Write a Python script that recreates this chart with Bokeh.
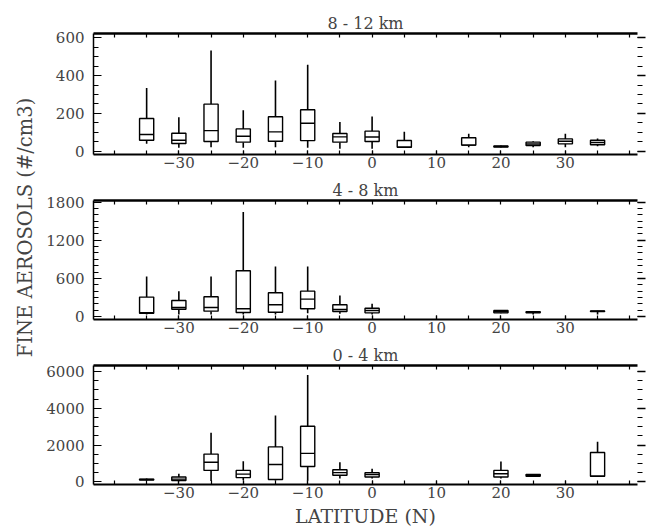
import numpy as np
from bokeh.plotting import figure
from bokeh.layouts import row, column
from bokeh.models import FixedTicker, LinearAxis, Range1d, Label
from bokeh.embed import file_html
from bokeh.resources import INLINE

# ---------------- data ----------------
# 8 - 12 km
lat_hi = [-35, -30, -25, -20, -15, -10, -5, 0, 5, 15, 20, 25, 30, 35]
lo_hi  = [39, 18, 21, 18, 21, 18, 13, 13, 21, 21, 20, 21, 21, 26]
q1_hi  = [58, 41, 51, 48, 53, 56, 48, 51, 21, 32, 22, 30, 39, 34]
med_hi = [88, 58, 109, 79, 102, 148, 76, 75, 21, 32, 25, 38, 53, 46]
q3_hi  = [173, 95, 249, 118, 182, 219, 94, 106, 57, 71, 28, 48, 65, 58]
up_hi  = [335, 180, 533, 217, 374, 457, 155, 184, 103, 92, 30, 53, 92, 67]

# 4 - 8 km
lat_mid = [-35, -30, -25, -20, -15, -10, -5, 0, 20, 25, 35]
lo_mid  = [31, 31, 31, 31, 31, 52, 42, 31, 50, 31, 31]
q1_mid  = [52, 115, 84, 63, 68, 121, 79, 58, 58, 60, 80]
med_mid = [60, 142, 142, 121, 184, 273, 110, 95, 75, 68, 84]
q3_mid  = [305, 252, 310, 719, 373, 399, 184, 131, 95, 75, 88]
up_mid  = [630, 399, 630, 1643, 788, 788, 331, 200, 100, 84, 90]

# 0 - 4 km
lat_lo = [-35, -30, -25, -20, -15, -10, -5, 0, 20, 25, 35]
lo_lo  = [71, 36, 53, 89, 70, 60, 178, 178, 178, 300, 302]
q1_lo  = [100, 71, 622, 231, 124, 836, 356, 267, 267, 302, 302]
med_lo = [124, 150, 1067, 420, 942, 1547, 500, 391, 444, 350, 302]
q3_lo  = [150, 267, 1511, 622, 1902, 3023, 658, 498, 622, 409, 1600]
up_lo  = [178, 444, 2667, 1120, 3609, 5814, 1067, 711, 1102, 409, 2187]

x_labels = [-30, -20, -10, 0, 10, 20, 30]
x_minor = [-40, -35, -30, -25, -20, -15, -10, -5, 0, 5, 10, 15, 20, 25, 30, 35, 40]

FONT = "DejaVu Serif"
BOX_W = 2.2


def panel(title, lats, lo, q1, med, q3, up, yr, ymaj, ymin, height, top, bottom, xlabel=None):
    p = figure(width=605, height=height, x_range=Range1d(-43.25, 41.2),
               y_range=Range1d(*yr), output_backend="svg", toolbar_location=None,
               min_border_left=50, min_border_right=11, min_border_top=top,
               min_border_bottom=bottom)
    p.outline_line_color = None
    p.xgrid.visible = False
    p.ygrid.visible = False
    p.background_fill_color = "white"

    p.title.text = title
    p.title.align = "center"
    p.title.text_font = FONT
    p.title.text_font_size = "16px"
    p.title.text_font_style = "normal"
    p.title.standoff = 1

    ax = p.xaxis[0]
    ax.ticker = FixedTicker(ticks=x_labels, minor_ticks=x_minor)
    ax.major_tick_in = 4
    ax.major_tick_out = 0
    ax.minor_tick_in = 4
    ax.minor_tick_out = 0
    ax.axis_line_width = 2
    ax.major_tick_line_width = 1.2
    ax.minor_tick_line_width = 1.2
    ax.major_label_text_font = FONT
    ax.major_label_text_font_size = "15px"
    ax.major_label_standoff = 2
    if xlabel:
        ax.axis_label = xlabel
        ax.axis_label_text_font = FONT
        ax.axis_label_text_font_size = "19px"
        ax.axis_label_text_font_style = "normal"
        ax.axis_label_standoff = 4

    ay = p.yaxis[0]
    ay.ticker = FixedTicker(ticks=ymaj, minor_ticks=ymin)
    ay.major_tick_in = 8
    ay.major_tick_out = 0
    ay.minor_tick_in = 5
    ay.minor_tick_out = 0
    ay.axis_line_width = 1.5
    ay.major_tick_line_width = 1.2
    ay.minor_tick_line_width = 1.2
    ay.major_label_text_font = FONT
    ay.major_label_text_font_size = "15px"
    ay.major_label_standoff = 9

    top_ax = LinearAxis(ticker=FixedTicker(ticks=x_minor, minor_ticks=[]),
                        major_tick_in=4, major_tick_out=0, axis_line_width=2.5,
                        major_tick_line_width=1.2, major_label_text_color=None,
                        major_label_standoff=0)
    p.add_layout(top_ax, "above")
    right_ax = LinearAxis(ticker=FixedTicker(ticks=ymaj, minor_ticks=ymin),
                          major_tick_in=0, major_tick_out=8, minor_tick_in=0,
                          minor_tick_out=5, axis_line_color=None,
                          major_tick_line_width=1.5, minor_tick_line_width=1.2,
                          major_label_text_color=None, major_label_standoff=0)
    p.add_layout(right_ax, "right")

    xs = np.array(lats, dtype=float)
    p.segment(x0=xs, x1=xs, y0=q3, y1=up, line_color="black", line_width=1.6)
    p.segment(x0=xs, x1=xs, y0=lo, y1=q1, line_color="black", line_width=1.6)
    p.vbar(x=xs, width=BOX_W, top=q3, bottom=q1, fill_color="white",
           line_color="black", line_width=1.4)
    p.segment(x0=xs - BOX_W / 2, x1=xs + BOX_W / 2, y0=med, y1=med,
              line_color="black", line_width=1.4)
    return p


p1 = panel("8 - 12 km", lat_hi, lo_hi, q1_hi, med_hi, q3_hi, up_hi,
           (-17.5, 623), [0, 200, 400, 600], list(range(0, 650, 50)),
           174, 33, 20)
p2 = panel("4 - 8 km", lat_mid, lo_mid, q1_mid, med_mid, q3_mid, up_mid,
           (-47, 1825), [0, 600, 1200, 1800], list(range(0, 1900, 100)),
           165, 26, 20)
p3 = panel("0 - 4 km", lat_lo, lo_lo, q1_lo, med_lo, q3_lo, up_lo,
           (-144, 6330), [0, 2000, 4000, 6000], list(range(0, 6500, 500)),
           190, 26, 43, xlabel="LATITUDE (N)")

lab = figure(width=43, height=529, x_range=Range1d(0, 1), y_range=Range1d(0, 1),
             output_backend="svg", toolbar_location=None, min_border=0)
lab.axis.visible = False
lab.grid.visible = False
lab.outline_line_color = None
lab.add_layout(Label(x=25, y=302, x_units="screen", y_units="screen",
                     text="FINE AEROSOLS (#/cm3)", angle=np.pi / 2,
                     text_align="center", text_baseline="middle",
                     text_font=FONT, text_font_size="19.5px"))

layout = row(lab, column(p1, p2, p3))
open("out.html", "w").write(file_html(layout, INLINE))
